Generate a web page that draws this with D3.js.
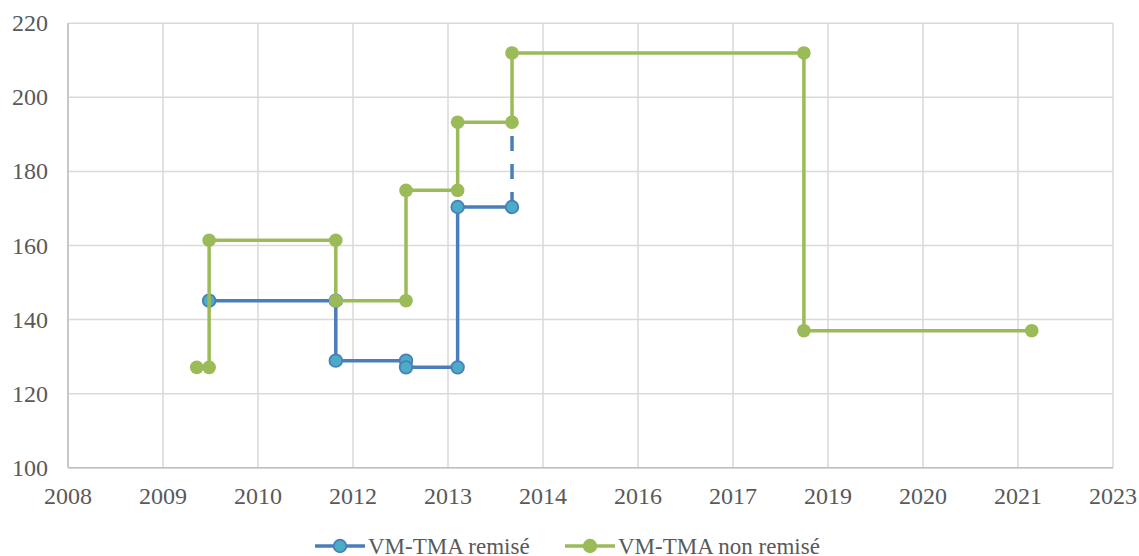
<!DOCTYPE html>
<html>
<head>
<meta charset="utf-8">
<script src="https://cdn.jsdelivr.net/npm/d3@7"></script>
</head>
<body style="margin:0">
<script>
// axis ticks (Excel date axis, one major unit ~ 1.38 years)
var tickLabels = ["2008", "2009", "2010", "2012", "2013", "2014", "2016", "2017", "2019", "2020", "2021", "2023"]
var tickStep = 1.38
var yTicks = [100, 120, 140, 160, 180, 200, 220]

// VM-TMA remisé
var remiseX = [2010.05, 2011.89, 2011.89, 2012.91, 2012.91, 2013.66, 2013.66, 2014.45]
var remiseY = [145.1, 145.1, 128.9, 128.9, 127.1, 127.1, 170.4, 170.4]
// dashed continuation
var remiseDashX = [2014.45, 2014.45]
var remiseDashY = [170.4, 193.3]

// VM-TMA non remisé
var nonRemiseX = [2009.87, 2010.05, 2010.05, 2011.89, 2011.89, 2012.91, 2012.91, 2013.66, 2013.66, 2014.45, 2014.45, 2018.69, 2018.69, 2022.00]
var nonRemiseY = [127.1, 127.1, 161.4, 161.4, 145.1, 145.1, 174.9, 174.9, 193.3, 193.3, 212.0, 212.0, 137.0, 137.0]

var width = 1139,
    height = 556,
    plotLeft = 68,
    plotRight = 1113,
    plotTop = 23.3,
    plotBottom = 467.7

var blue = "#4a7ebb",
    blueFill = "#4bacc6",
    green = "#9bbb59"

var serif = "Times New Roman"

var svg = d3.select("body")
  .append("svg")
  .attr("width", width)
  .attr("height", height)

var tickValues = tickLabels.map(function(d, i) { return 2008 + i * tickStep })

var x = d3.scaleLinear()
  .domain([2008, 2008 + 11 * tickStep])
  .range([plotLeft, plotRight])

var y = d3.scaleLinear()
  .domain([100, 220])
  .range([plotBottom, plotTop])

// gridlines
svg.append("g")
  .selectAll("line")
  .data(yTicks)
  .enter().append("line")
  .attr("x1", plotLeft)
  .attr("x2", plotRight)
  .attr("y1", function(d) { return y(d) })
  .attr("y2", function(d) { return y(d) })
  .attr("stroke", "#d9d9d9")
  .attr("stroke-width", 1.5)

svg.append("g")
  .selectAll("line")
  .data(tickValues)
  .enter().append("line")
  .attr("x1", function(d) { return x(d) })
  .attr("x2", function(d) { return x(d) })
  .attr("y1", plotTop)
  .attr("y2", plotBottom)
  .attr("stroke", "#d9d9d9")
  .attr("stroke-width", 1.5)

// axis lines
svg.append("line")
  .attr("x1", plotLeft).attr("x2", plotLeft)
  .attr("y1", plotTop).attr("y2", plotBottom)
  .attr("stroke", "#bfbfbf")
  .attr("stroke-width", 1.5)

svg.append("line")
  .attr("x1", plotLeft).attr("x2", plotRight)
  .attr("y1", plotBottom).attr("y2", plotBottom)
  .attr("stroke", "#bfbfbf")
  .attr("stroke-width", 1.5)

// tick labels
svg.append("g")
  .selectAll("text")
  .data(yTicks)
  .enter().append("text")
  .attr("x", 48)
  .attr("y", function(d) { return y(d) + 8 })
  .attr("text-anchor", "end")
  .style("font-family", serif)
  .style("font-size", "24px")
  .style("fill", "#595959")
  .text(function(d) { return d })

svg.append("g")
  .selectAll("text")
  .data(tickValues)
  .enter().append("text")
  .attr("x", function(d) { return x(d) })
  .attr("y", 504)
  .attr("text-anchor", "middle")
  .style("font-family", serif)
  .style("font-size", "24px")
  .style("fill", "#595959")
  .text(function(d, i) { return tickLabels[i] })

var line = d3.line()
  .x(function(d) { return x(d[0]) })
  .y(function(d) { return y(d[1]) })

var remise = d3.zip(remiseX, remiseY)
var remiseDash = d3.zip(remiseDashX, remiseDashY)
var nonRemise = d3.zip(nonRemiseX, nonRemiseY)

// remisé series
svg.append("path")
  .datum(remiseDash)
  .attr("d", line)
  .attr("fill", "none")
  .attr("stroke", blue)
  .attr("stroke-width", 3.5)
  .attr("stroke-dasharray", "15,13")

svg.append("path")
  .datum(remise)
  .attr("d", line)
  .attr("fill", "none")
  .attr("stroke", blue)
  .attr("stroke-width", 3.5)

svg.append("g")
  .selectAll("circle")
  .data(remise)
  .enter().append("circle")
  .attr("cx", function(d) { return x(d[0]) })
  .attr("cy", function(d) { return y(d[1]) })
  .attr("r", 6.3)
  .attr("fill", blueFill)
  .attr("stroke", blue)
  .attr("stroke-width", 1.8)

// non remisé series
svg.append("path")
  .datum(nonRemise)
  .attr("d", line)
  .attr("fill", "none")
  .attr("stroke", green)
  .attr("stroke-width", 3.5)

svg.append("g")
  .selectAll("circle")
  .data(nonRemise)
  .enter().append("circle")
  .attr("cx", function(d) { return x(d[0]) })
  .attr("cy", function(d) { return y(d[1]) })
  .attr("r", 6.8)
  .attr("fill", green)

// legend
var legend = [
  { name: "VM-TMA remisé", color: blue, fill: blueFill, x: 315 },
  { name: "VM-TMA non remisé", color: green, fill: green, x: 565 }
]

var items = svg.selectAll(".legend")
  .data(legend)
  .enter().append("g")
  .attr("class", "legend")
  .attr("transform", function(d) { return "translate(" + d.x + " 546)" })

items.append("line")
  .attr("x1", 0).attr("x2", 50)
  .attr("stroke", function(d) { return d.color })
  .attr("stroke-width", 3.5)

items.append("circle")
  .attr("cx", 25)
  .attr("r", 6.3)
  .attr("fill", function(d) { return d.fill })
  .attr("stroke", function(d) { return d.color })
  .attr("stroke-width", 1.8)

items.append("text")
  .attr("x", 53)
  .attr("y", 8)
  .style("font-family", serif)
  .style("font-size", "23px")
  .style("fill", "#595959")
  .text(function(d) { return d.name })
</script>
</body>
</html>
